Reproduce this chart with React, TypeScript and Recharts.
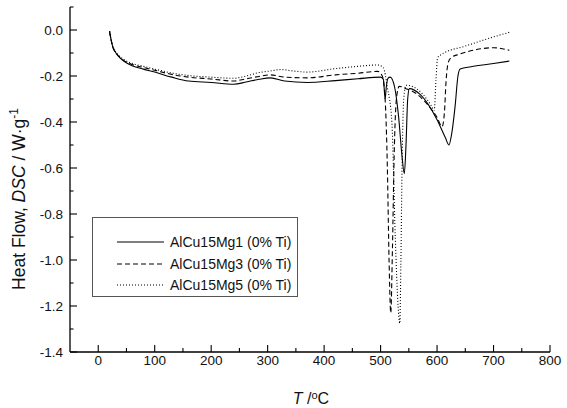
import React from 'react';
import { LineChart, Line, XAxis, YAxis, Legend, Label } from 'recharts';

const FONT = '"Liberation Sans", Arial, Helvetica, sans-serif';

const mg1T = [20, 21, 23, 26, 30, 36, 45, 60, 80, 100, 130, 160, 200, 240, 262, 285, 305, 330, 370, 420, 460, 500, 505, 508, 510, 513, 517, 525, 532, 538, 542, 545, 548, 551, 570, 600, 615, 621, 626, 632, 637, 641, 660, 700, 728];
const mg1V = [-0.005, -0.02, -0.045, -0.075, -0.095, -0.115, -0.135, -0.155, -0.17, -0.183, -0.205, -0.222, -0.228, -0.236, -0.226, -0.214, -0.208, -0.222, -0.228, -0.22, -0.212, -0.205, -0.215, -0.3, -0.25, -0.21, -0.205, -0.25, -0.38, -0.55, -0.625, -0.5, -0.3, -0.255, -0.28, -0.39, -0.47, -0.5, -0.45, -0.33, -0.2, -0.17, -0.16, -0.146, -0.135];

const mg3T = [20, 21, 23, 26, 30, 36, 45, 60, 80, 100, 130, 160, 200, 240, 262, 285, 305, 330, 370, 420, 460, 495, 503, 508, 512, 515, 518, 521, 524, 528, 533, 545, 565, 585, 600, 609, 613, 616, 620, 625, 640, 670, 700, 728];
const mg3V = [-0.005, -0.02, -0.045, -0.075, -0.095, -0.113, -0.132, -0.15, -0.163, -0.175, -0.193, -0.205, -0.213, -0.222, -0.212, -0.202, -0.195, -0.205, -0.208, -0.195, -0.188, -0.18, -0.2, -0.3, -0.6, -1.0, -1.23, -0.95, -0.55, -0.3, -0.245, -0.255, -0.28, -0.33, -0.38, -0.42, -0.36, -0.22, -0.14, -0.12, -0.105, -0.085, -0.077, -0.088];

const mg5T = [20, 21, 23, 26, 30, 36, 45, 60, 80, 100, 130, 160, 200, 240, 262, 285, 305, 323, 345, 370, 420, 460, 495, 505, 512, 520, 526, 531, 534, 536, 538, 541, 545, 560, 575, 590, 595, 598, 601, 608, 650, 700, 728];
const mg5V = [-0.005, -0.02, -0.045, -0.075, -0.093, -0.11, -0.128, -0.145, -0.158, -0.17, -0.187, -0.198, -0.205, -0.21, -0.2, -0.185, -0.178, -0.172, -0.178, -0.183, -0.168, -0.158, -0.152, -0.165, -0.25, -0.4, -0.9, -1.2, -1.275, -1.0, -0.6, -0.3, -0.24, -0.25, -0.28, -0.33, -0.35, -0.22, -0.12, -0.106, -0.07, -0.03, -0.01];

const seriesNames = ['AlCu15Mg1 (0% Ti)', 'AlCu15Mg3 (0% Ti)', 'AlCu15Mg5 (0% Ti)'];
const seriesDash = ['', '5 3', '1 2'];

const xTicks = [0, 50, 100, 150, 200, 250, 300, 350, 400, 450, 500, 550, 600, 650, 700, 750, 800];
const yTicks = [0.1, 0, -0.1, -0.2, -0.3, -0.4, -0.5, -0.6, -0.7, -0.8, -0.9, -1.0, -1.1, -1.2, -1.3, -1.4];

const zip = (t: number[], v: number[]) => t.map((x, i) => ({ t: x, v: v[i] }));
const dataSets = [zip(mg1T, mg1V), zip(mg3T, mg3V), zip(mg5T, mg5V)];

const YTick = (props: any) => {
  const { x, y, payload } = props;
  const v = payload.value;
  const tenth = Math.round(v * 10);
  const major = tenth <= 0 && tenth % 2 === 0;
  const ax = x + 7;
  return (
    <g>
      <line x1={ax} x2={ax + (major ? 7 : 3.5)} y1={y} y2={y} stroke="#000" strokeWidth={1.1} />
      {major && (
        <text x={x} y={y} dy="0.355em" textAnchor="end" fontSize={13.5} fontFamily={FONT} fill="#111">
          {v.toFixed(1)}
        </text>
      )}
    </g>
  );
};

const XTick = (props: any) => {
  const { x, y, payload } = props;
  const v = payload.value;
  const major = v % 100 === 0;
  const ay = y - 3;
  return (
    <g>
      <line x1={x} x2={x} y1={ay} y2={ay - (major ? 7 : 4)} stroke="#000" strokeWidth={1.1} />
      {major && (
        <text x={x} y={y} dy="0.71em" textAnchor="middle" fontSize={13.5} fontFamily={FONT} fill="#111">
          {v}
        </text>
      )}
    </g>
  );
};

const LegendBox = () => (
  <div
    style={{
      width: 206,
      height: 80,
      border: '1px solid #555',
      boxSizing: 'border-box',
      background: '#fff',
      position: 'relative',
      fontFamily: FONT,
      fontSize: 14,
      color: '#111',
    }}
  >
    {seriesNames.map((n, i) => (
      <div key={n} style={{ position: 'absolute', left: 24, top: 14 + i * 21.5, height: 20, display: 'flex', alignItems: 'center', whiteSpace: 'nowrap' }}>
        <svg width={47} height={4} style={{ marginRight: 6 }}>
          <line x1={0} x2={47} y1={2} y2={2} stroke="#000" strokeWidth={1} strokeDasharray={seriesDash[i] || undefined} />
        </svg>
        <span>{n}</span>
      </div>
    ))}
  </div>
);

export default function App() {
  return (
    <div style={{ position: 'absolute', left: 0, top: 0, background: '#fff' }}>
      <LineChart width={567} height={408} margin={{ top: 7, right: 17, left: 0, bottom: 26 }}>
        <XAxis
          type="number"
          dataKey="t"
          domain={[-50, 800]}
          ticks={xTicks}
          allowDataOverflow
          height={30}
          tickSize={0}
          tickMargin={3}
          tick={<XTick />}
          stroke="#000"
          strokeWidth={1.3}
          interval={0}
        >
          <Label
            content={() => (
              <text x={311} y={404} textAnchor="middle" fontSize={16} fontFamily={FONT} fill="#111">
                <tspan fontStyle="italic">T</tspan>
                <tspan> /</tspan>
                <tspan dy={-5} fontSize={11}>o</tspan>
                <tspan dy={5}>C</tspan>
              </text>
            )}
          />
        </XAxis>
        <YAxis
          type="number"
          domain={[-1.4, 0.1]}
          ticks={yTicks}
          allowDataOverflow
          width={70}
          tickSize={0}
          tickMargin={7}
          tick={<YTick />}
          stroke="#000"
          strokeWidth={1.3}
          interval={0}
        >
          <Label
            content={() => (
              <text x={25} y={199} transform="rotate(-90, 25, 199)" textAnchor="middle" fontSize={17.5} fontFamily={FONT} fill="#111">
                <tspan>Heat Flow, </tspan>
                <tspan fontStyle="italic">DSC</tspan>
                <tspan> / W·g</tspan>
                <tspan dy={-7} fontSize={12}>-1</tspan>
              </text>
            )}
          />
        </YAxis>
        <Legend
          layout="vertical"
          align="center"
          verticalAlign="middle"
          wrapperStyle={{ position: 'absolute', left: 92, top: 217, width: 206, height: 80 }}
          content={() => <LegendBox />}
        />
        {dataSets.map((d, i) => (
          <Line
            key={seriesNames[i]}
            data={d}
            dataKey="v"
            name={seriesNames[i]}
            type="monotoneX"
            stroke="#000"
            strokeWidth={1.1}
            strokeDasharray={seriesDash[i] || undefined}
            dot={false}
            activeDot={false}
            isAnimationActive={false}
          />
        ))}
      </LineChart>
    </div>
  );
}
